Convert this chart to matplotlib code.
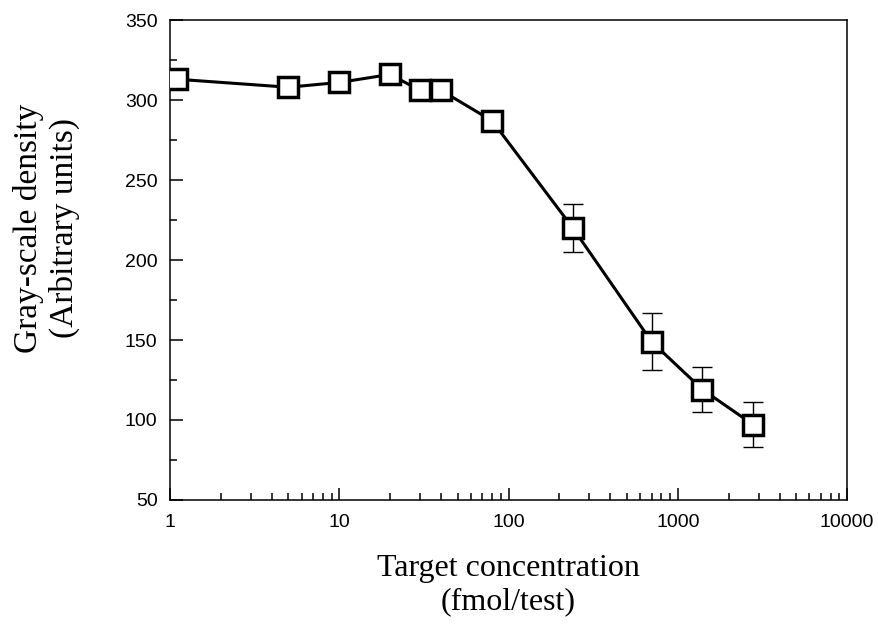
import numpy as np
import matplotlib
matplotlib.use("Agg")
import matplotlib.pyplot as plt
from matplotlib.ticker import FixedLocator, FixedFormatter, LogLocator, NullFormatter, MultipleLocator

# data
conc = [1.1, 5, 10, 20, 30, 40, 80, 240, 700, 1400, 2800]
density = [313, 308, 311, 316, 306, 306, 287, 220, 149, 119, 97]
err = [0, 0, 0, 0, 0, 0, 0, 15, 18, 14, 14]

x_ticks = [1, 10, 100, 1000, 10000]
x_labels = ["1", "10", "100", "1000", "10000"]
y_ticks = [50, 100, 150, 200, 250, 300, 350]

fig = plt.figure(figsize=(8.79, 6.26), dpi=100)
ax = fig.add_axes([0.1934, 0.2013, 0.7702, 0.7667])

# error bars (only where there is a spread)
has_err = [i for i, e in enumerate(err) if e > 0]
ax.errorbar([conc[i] for i in has_err], [density[i] for i in has_err],
            yerr=[err[i] for i in has_err], fmt='none', ecolor='black',
            elinewidth=1.0, capsize=7, capthick=1.0, zorder=2)

ax.plot(conc, density, color='black', linewidth=2.2, marker='s',
        markersize=15, markerfacecolor='white', markeredgecolor='black',
        markeredgewidth=2.5, zorder=3)

ax.set_xscale('log')
ax.set_xlim(1, 10000)
ax.set_ylim(50, 350)

ax.xaxis.set_major_locator(FixedLocator(x_ticks))
ax.xaxis.set_major_formatter(FixedFormatter(x_labels))
ax.xaxis.set_minor_locator(LogLocator(base=10, subs=np.arange(2, 10)))
ax.xaxis.set_minor_formatter(NullFormatter())
ax.yaxis.set_major_locator(FixedLocator(y_ticks))
ax.yaxis.set_minor_locator(MultipleLocator(25))

ax.tick_params(which='both', direction='in', top=False, right=False, width=1.1)
ax.tick_params(which='major', length=9)
ax.tick_params(which='minor', length=5)
ax.tick_params(axis='y', which='major', pad=9)
ax.tick_params(axis='x', which='major', pad=10)
for lab in ax.get_xticklabels() + ax.get_yticklabels():
    lab.set_fontfamily('Liberation Sans')
    lab.set_fontsize(14)

for sp in ax.spines.values():
    sp.set_linewidth(1.1)

ax.set_xlabel("Target concentration\n(fmol/test)", fontfamily='Liberation Serif',
              fontsize=23, linespacing=1.2)
ax.set_ylabel("Gray-scale density\n(Arbitrary units)", fontfamily='Liberation Serif',
              fontsize=24, linespacing=1.2)
ax.xaxis.set_label_coords(0.5, -0.112)
ax.yaxis.set_label_coords(-0.133, 0.567)

fig.savefig("out.png", dpi=100)
